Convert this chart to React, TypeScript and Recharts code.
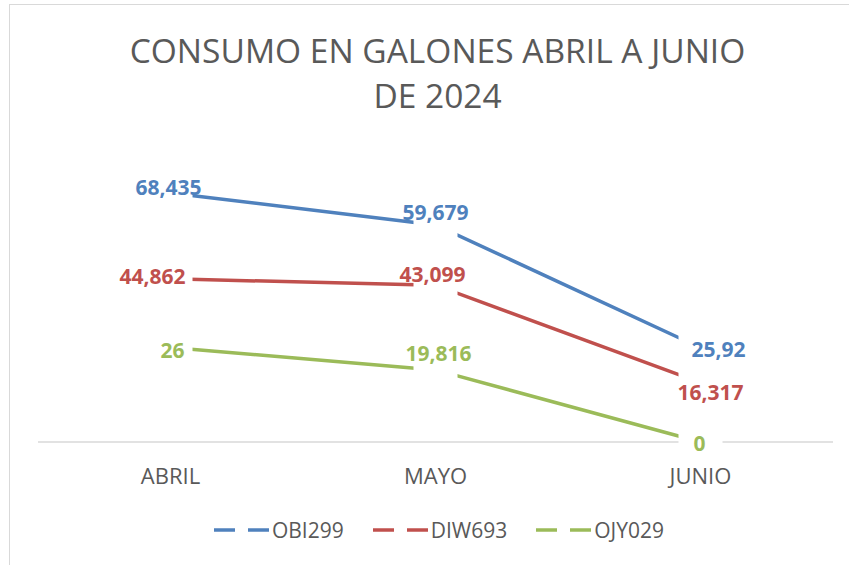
import React from 'react';
import { LineChart, Line, XAxis, YAxis, Legend, LabelList } from 'recharts';

const MONTHS = ['ABRIL', 'MAYO', 'JUNIO'];
const OBI299 = [68.435, 59.679, 25.92];
const DIW693 = [44.862, 43.099, 16.317];
const OJY029 = [26, 19.816, 0];

const SERIES = [
  { key: 'OBI299', values: OBI299, color: '#4F81BD' },
  { key: 'DIW693', values: DIW693, color: '#C0504D' },
  { key: 'OJY029', values: OJY029, color: '#9BBB59' },
];

// hand-placed label offsets, like the dragged labels in the original
const LABEL_NUDGE: Record<string, [number, number][]> = {
  OBI299: [[-2, -6], [0, -13], [18, 1]],
  DIW693: [[-18, -3], [-3, -11], [10, 9]],
  OJY029: [[2, 3], [3, -17], [-1, 1]],
};

const data = MONTHS.map((month, i) => {
  const row: Record<string, string | number> = { month };
  SERIES.forEach((s) => {
    row[s.key] = s.values[i];
  });
  return row;
});

const FONT = '"Open Sans", sans-serif';
const GRAY = '#595959';

const fmt = (v: number) => String(v).replace('.', ',');

// white box behind each point -> the gaps in the line
const GapDot = (props: any) => {
  const { cx, cy, index } = props;
  if (cx == null || cy == null) return <g key={`gap-${index}`} />;
  return <rect key={`gap-${index}`} x={cx - 22} y={cy - 15} width={44} height={30} fill="#fff" />;
};

const makeLabel = (key: string, color: string) => (props: any) => {
  const { index, value } = props;
  const x = props.x ?? props.viewBox?.x;
  const y = props.y ?? props.viewBox?.y;
  const [dx, dy] = LABEL_NUDGE[key][index] || [0, 0];
  return (
    <text
      x={x + dx}
      y={y + dy}
      textAnchor="middle"
      dominantBaseline="central"
      fill={color}
      fontFamily={FONT}
      fontWeight={700}
      fontSize={21}
    >
      {fmt(value)}
    </text>
  );
};

const LegendContent = () => (
  <div style={{ display: 'flex', justifyContent: 'center', alignItems: 'center', gap: 28, height: 30, paddingLeft: 6 }}>
    {SERIES.map((s) => (
      <div key={s.key} style={{ display: 'flex', alignItems: 'center' }}>
        <svg width={59} height={10}>
          <line x1={1} y1={5} x2={22} y2={5} stroke={s.color} strokeWidth={3.5} />
          <line x1={35} y1={5} x2={56} y2={5} stroke={s.color} strokeWidth={3.5} />
        </svg>
        <span style={{ fontFamily: FONT, fontSize: 21, color: GRAY }}>{s.key}</span>
      </div>
    ))}
  </div>
);

export default function App() {
  return (
    <div style={{ position: 'absolute', left: 0, top: 0, width: 849, height: 565, background: '#fff', overflow: 'hidden' }}>
      <div
        style={{
          position: 'absolute',
          left: 9,
          top: 4,
          width: 900,
          height: 600,
          borderTop: '1.5px solid #d9d9d9',
          borderLeft: '1.5px solid #d9d9d9',
        }}
      />
      <div
        style={{
          position: 'absolute',
          left: 0,
          top: 28,
          width: 875,
          textAlign: 'center',
          fontFamily: FONT,
          fontSize: 33.5,
          lineHeight: '45px',
          color: GRAY,
        }}
      >
        CONSUMO EN GALONES ABRIL A JUNIO
        <br />
        DE 2024
      </div>
      <div style={{ position: 'absolute', left: 0, top: 0 }}>
        <LineChart width={849} height={565} data={data} margin={{ top: 151, right: 16, left: 38, bottom: 20 }}>
          <XAxis
            dataKey="month"
            padding={{ left: 132.5, right: 132.5 }}
            height={73}
            tickLine={false}
            tickSize={0}
            tickMargin={26}
            axisLine={{ stroke: '#d9d9d9', strokeWidth: 1.5 }}
            tick={{ fill: GRAY, fontSize: 22, fontFamily: FONT }}
          />
          <YAxis hide domain={[0, 80]} />
          <Legend verticalAlign="bottom" content={<LegendContent />} />
          {SERIES.map((s) => (
            <Line
              key={s.key}
              type="linear"
              dataKey={s.key}
              stroke={s.color}
              strokeWidth={3.5}
              dot={GapDot}
              activeDot={false}
              isAnimationActive={false}
            >
              <LabelList dataKey={s.key} content={makeLabel(s.key, s.color)} />
            </Line>
          ))}
        </LineChart>
      </div>
    </div>
  );
}
